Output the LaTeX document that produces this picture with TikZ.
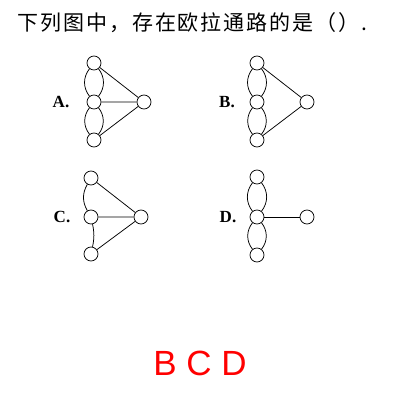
\documentclass[tikz,border=0pt]{standalone}
\usepackage{fontspec}
\setmainfont{Liberation Serif}
\newfontfamily\cjk[LetterSpace=9]{Noto Sans CJK SC}
\newfontfamily\answerfont{Liberation Sans}
\usetikzlibrary{positioning}

\begin{document}
\begin{tikzpicture}[x=1pt,y=-1pt,on grid,line width=0.75pt,
    vert/.style={circle,draw,inner sep=0pt,minimum size=14pt},
    optlabel/.style={font=\fontsize{17}{17}\selectfont\bfseries}]
    \useasboundingbox (0,0) rectangle (400,400);

    \node[anchor=west,font=\cjk\fontsize{21}{21}\selectfont] (title) at (14,23) {下列图中，存在欧拉通路的是（）.};

    % A
    \node[vert] (a1) at (94,63) {};
    \node[vert] (a2) [below=39pt of a1] {};
    \node[vert] (a3) [below=38pt of a2] {};
    \node[vert] (a4) [right=50pt of a2] {};
    \node[optlabel] (la) [left=33pt of a2] {A.};
    \draw (a1) to[bend left=38] (a2) (a1) to[bend right=38] (a2);
    \draw (a2) to[bend left=38] (a3) (a2) to[bend right=38] (a3);
    \draw (a1) -- (a4) (a2) -- (a4) (a3) -- (a4);

    % B
    \node[vert] (b1) at (257,63) {};
    \node[vert] (b2) [below=39pt of b1] {};
    \node[vert] (b3) [below=38pt of b2] {};
    \node[vert] (b4) [right=50pt of b2] {};
    \node[optlabel] (lb) [left=30pt of b2] {B.};
    \draw (b1) to[bend left=38] (b2) (b1) to[bend right=38] (b2);
    \draw (b2) to[bend left=38] (b3) (b2) to[bend right=38] (b3);
    \draw (b1) -- (b4) (b3) -- (b4);

    % C
    \node[vert] (c1) at (91,178) {};
    \node[vert] (c2) [below=39pt of c1] {};
    \node[vert] (c3) [below=37pt of c2] {};
    \node[vert] (c4) [right=50pt of c2] {};
    \node[optlabel] (lc) [left=29pt of c2] {C.};
    \draw (c1) to[bend right=30] (c2);
    \draw (c2) to[bend left=12] (c3);
    \draw (c1) -- (c4) (c2) -- (c4) (c3) -- (c4);

    % D
    \node[vert] (d1) at (257,177) {};
    \node[vert] (d2) [below=40pt of d1] {};
    \node[vert] (d3) [below=38pt of d2] {};
    \node[vert] (d4) [right=50pt of d2] {};
    \node[optlabel] (ld) [left=29pt of d2] {D.};
    \draw (d1) to[bend left=38] (d2) (d1) to[bend right=38] (d2);
    \draw (d2) to[bend left=38] (d3) (d2) to[bend right=38] (d3);
    \draw (d2) -- (d4);

    \node[text=red,font=\answerfont\fontsize{35}{35}\selectfont] (ans) at (200,363) {B\ C\ D};
\end{tikzpicture}
\end{document}
